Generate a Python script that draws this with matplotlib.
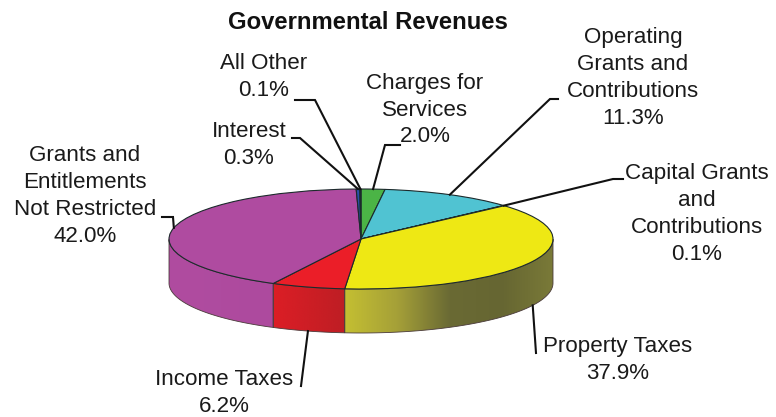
import matplotlib
matplotlib.use('Agg')
import numpy as np
import matplotlib.pyplot as plt
from matplotlib.colors import LinearSegmentedColormap
from matplotlib.patches import Polygon

plt.rcParams['font.family'] = ['Liberation Sans', 'DejaVu Sans']

W, H = 776, 417
CX, CY, RX, RY = 361, 239, 192, 50
DEPTH = 44 / RY

# clockwise from the top of the pie
categories = ['Charges for\nServices', 'Operating\nGrants and\nContributions',
              'Capital Grants\nand\nContributions', 'Property Taxes', 'Income Taxes',
              'Grants and\nEntitlements\nNot Restricted', 'Interest', 'All Other']
values = [2.0, 11.3, 0.1, 37.9, 6.2, 42.0, 0.3, 0.1]
colors = ['#4bb446', '#50c3d2', '#14506e', '#eee814', '#eb1e28', '#af4ba0', '#2850aa', '#14283c']
side_colors = {
    'Property Taxes': ['#c4bf32', '#a5a038', '#6a6a34', '#666632', '#7a7a38'],
    'Income Taxes': ['#dc1e26', '#be1e24'],
    'Grants and\nEntitlements\nNot Restricted': ['#b04ca0', '#ad4a9e'],
}
label_pos = [(425, 110), (633, 78), (697, 214), (618, 360), (224, 393), (85, 196), (249, 145), (264, 77)]
# leader points, from the label end towards the pie
leaders = [[(400, 145), (385, 145)], [(558, 99), (550, 99)], [(623, 179), (613, 179)],
           [(536, 353)], [(301, 386)], [(162, 217), (173, 217)],
           [(292, 138), (300, 138)], [(295, 100), (315, 100)]]

fig = plt.figure(figsize=(W / 100, H / 100), dpi=100)
ax = fig.add_axes([0, 0, 1, 1])
wedges, _ = ax.pie(values, colors=colors, startangle=90, counterclock=False,
                   wedgeprops={'edgecolor': '#1c2a2c', 'linewidth': 0.8, 'zorder': 5})
ax.set_aspect('auto')
xlim = (-CX / RX, (W - CX) / RX)
ylim = ((CY - H) / RY, CY / RY)

# side wall of the disc, only the front half shows
for w, cat in zip(wedges, categories):
    if cat not in side_colors:
        continue
    t = np.radians(np.linspace(w.theta1, w.theta2, 200))
    t = t[np.sin(t) <= 0]
    x, y = np.cos(t), np.sin(t)
    pts = np.r_[np.c_[x, y], np.c_[x, y - DEPTH][::-1]]
    poly = Polygon(pts, closed=True, facecolor='none', edgecolor='#4a3a3a', linewidth=0.6, zorder=3)
    ax.add_patch(poly)
    cmap = LinearSegmentedColormap.from_list('side', side_colors[cat])
    im = ax.imshow(np.linspace(0, 1, 256)[None, :], cmap=cmap, aspect='auto', zorder=2,
                   extent=(x.min(), x.max(), (y - DEPTH).min(), y.max()))
    im.set_clip_path(poly)
ax.set_xlim(xlim)
ax.set_ylim(ylim)
ax.set_aspect('auto')

# overlay in image pixels for labels and leaders
lab = fig.add_axes([0, 0, 1, 1], facecolor='none')
lab.set_xlim(0, W)
lab.set_ylim(H, 0)
lab.axis('off')

lab.text(368, 22, 'Governmental Revenues', ha='center', va='center', fontsize=17.2, fontweight='bold',
         color='#111111')

for w, cat, val, pos, pts in zip(wedges, categories, values, label_pos, leaders):
    lab.text(pos[0], pos[1], f'{cat}\n{val:.1f}%', ha='center', va='center', fontsize=16.1,
             linespacing=1.37, color='#1a1a1a')
    mid = np.radians((w.theta1 + w.theta2) / 2)
    ax_x, ax_y = np.cos(mid), np.sin(mid)
    if ax_y < 0:
        ax_y -= DEPTH
    anchor = lab.transData.inverted().transform(ax.transData.transform((ax_x, ax_y)))
    xs = [p[0] for p in pts] + [anchor[0]]
    ys = [p[1] for p in pts] + [anchor[1]]
    lab.plot(xs, ys, color='#111111', lw=1.5, solid_joinstyle='miter', zorder=6)

fig.savefig('out.png', dpi=100)
